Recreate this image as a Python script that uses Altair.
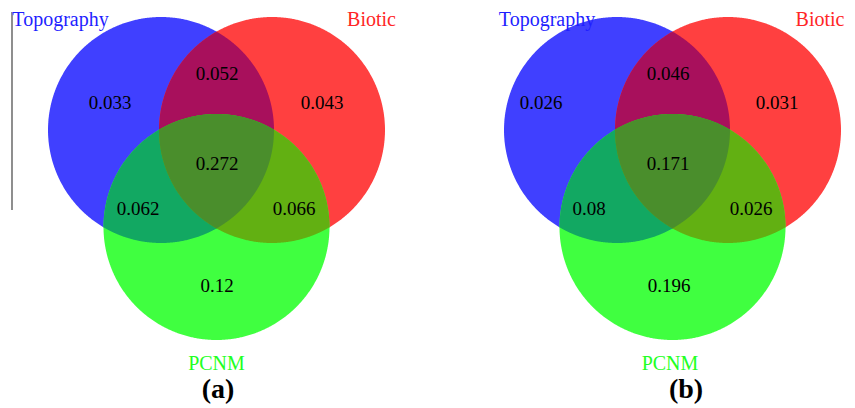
import numpy as np
import pandas as pd
import altair as alt

# ---------------- data ----------------
sets = ["Topography", "Biotic", "PCNM"]
region_names = ["Topography only", "Topography & Biotic", "Biotic only", "All three",
                "Topography & PCNM", "Biotic & PCNM", "PCNM only"]
values_a = [0.033, 0.052, 0.043, 0.272, 0.062, 0.066, 0.12]
values_b = [0.026, 0.046, 0.031, 0.171, 0.08, 0.026, 0.196]
panel_tags = ["(a)", "(b)"]

# ---------------- layout (page pixels) ----------------
panel_dx = [0.0, 456.0]
centers = [(161.0, 130.0), (272.0, 130.0), (216.5, 227.0)]
radius = 113.0
label_pos = [
    [(110, 103), (217, 74), (322, 103), (217, 164), (138, 209), (294, 209), (217, 286)],
    [(541, 103), (668, 74), (777, 103), (668, 164), (589, 209), (751, 209), (669, 286)],
]
set_label_pos = [
    [(60.5, 20), (371.5, 20), (216.5, 364)],
    [(547, 20), (820, 20), (670, 364)],
]
tag_pos = [(218, 390), (686, 390)]

set_text_colors = ["#1F1FFF", "#FF2525", "#22FF22"]
shape_color = {"T": "#4040FF", "B": "#FF4040", "P": "#40FF40", "TB": "#A8105C",
               "TP": "#12A862", "BP": "#62B012", "TBP": "#4A8E2C"}


def bounds(x, c):
    cx, cy = c
    d = radius ** 2 - (x - cx) ** 2
    h = np.sqrt(np.where(d >= 0, d, np.nan))
    return cy - h, cy + h


def intersections(c1, c2):
    (x1, y1), (x2, y2) = c1, c2
    d = np.hypot(x2 - x1, y2 - y1)
    a = d / 2
    h = np.sqrt(max(radius ** 2 - a ** 2, 0))
    mx = x1 + (x2 - x1) * a / d
    return [mx + h * (y2 - y1) / d, mx - h * (y2 - y1) / d]


def region_shape(idx, dx):
    cs = [(centers[i][0] + dx, centers[i][1]) for i in idx]
    th = np.linspace(0, np.pi, 400)
    xs = [c[0] + radius * np.cos(th) for c in cs]
    for i in range(len(cs)):
        for j in range(i + 1, len(cs)):
            xs.append(np.array(intersections(cs[i], cs[j])))
    x = np.unique(np.concatenate(xs))
    tops, bots = [], []
    for c in cs:
        t, b = bounds(x, c)
        tops.append(t)
        bots.append(b)
    top = np.max(tops, axis=0)
    bot = np.min(bots, axis=0)
    ok = ~np.isnan(top) & ~np.isnan(bot) & (top <= bot + 1e-6)
    return x[ok], top[ok], np.maximum(bot[ok], top[ok])


combos = {"T": [0], "B": [1], "P": [2], "TB": [0, 1], "TP": [0, 2], "BP": [1, 2], "TBP": [0, 1, 2]}
rows = []
for p, dx in enumerate(panel_dx):
    for key, idx in combos.items():
        x, t, b = region_shape(idx, dx)
        for xi, ti, bi in zip(x, t, b):
            rows.append({"gid": f"{p}-{key}", "fill": shape_color[key], "level": len(idx),
                         "x": float(xi), "top": float(ti), "bot": float(bi)})
areas = pd.DataFrame(rows)

num_rows = []
for p, vals in enumerate([values_a, values_b]):
    for k, v in enumerate(vals):
        num_rows.append({"region": region_names[k], "label": str(v),
                         "x": label_pos[p][k][0], "y": label_pos[p][k][1]})
nums = pd.DataFrame(num_rows)

set_rows = []
for p in range(2):
    for k, s in enumerate(sets):
        set_rows.append({"set": s, "col": set_text_colors[k],
                         "x": set_label_pos[p][k][0], "y": set_label_pos[p][k][1]})
setlab = pd.DataFrame(set_rows)

tags = pd.DataFrame({"tag": panel_tags, "x": [t[0] for t in tag_pos], "y": [t[1] for t in tag_pos]})
line = pd.DataFrame({"x": [12], "y": [12], "y2": [210]})

W, H = 839, 400
xs = alt.Scale(domain=[8, 8 + W], nice=False, zero=False)
ys = alt.Scale(domain=[8, 8 + H], nice=False, zero=False, reverse=True)


def X(f):
    return alt.X(f, type="quantitative", scale=xs, axis=None)


def Y(f):
    return alt.Y(f, type="quantitative", scale=ys, axis=None, stack=None)


layers = []
for lvl in [1, 2, 3]:
    layers.append(
        alt.Chart(areas[areas.level == lvl]).mark_area(opacity=1)
        .encode(x=X("x"), y=Y("top"), y2=alt.Y2("bot"),
                color=alt.Color("fill:N", scale=None), detail="gid:N")
    )

rule = alt.Chart(line).mark_rule(color="#444444", strokeWidth=1.2).encode(
    x=X("x"), y=Y("y"), y2=alt.Y2("y2"))

num_text = alt.Chart(nums).mark_text(font="Liberation Serif", fontSize=19, color="black",
                                     baseline="middle", align="center").encode(
    x=X("x"), y=Y("y"), text="label:N")

set_text = alt.Chart(setlab).mark_text(font="Liberation Serif", fontSize=20,
                                       baseline="middle", align="center").encode(
    x=X("x"), y=Y("y"), text="set:N", color=alt.Color("col:N", scale=None))

tag_text = alt.Chart(tags).mark_text(font="Liberation Serif", fontSize=28, fontWeight="bold",
                                     color="black", baseline="middle", align="center").encode(
    x=X("x"), y=Y("y"), text="tag:N")

chart = alt.layer(*layers, rule, num_text, set_text, tag_text).properties(
    width=W, height=H, padding=0, autosize=alt.AutoSizeParams(type="none")
).configure_view(stroke=None)

chart.save("out.html", embed_options={"renderer": "svg", "actions": False})
